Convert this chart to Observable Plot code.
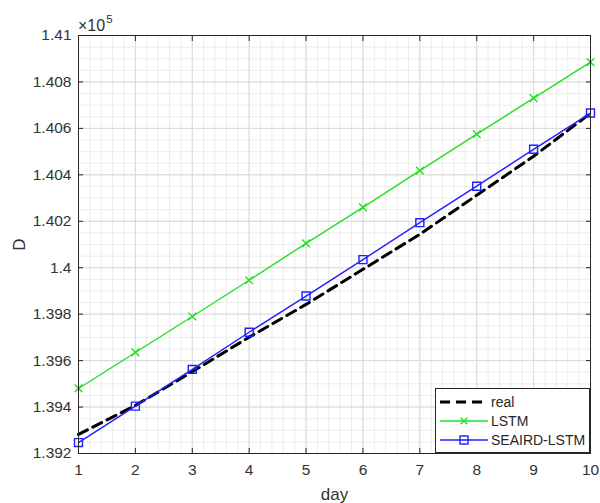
<!DOCTYPE html>
<html><head><meta charset="utf-8">
<script src="https://cdn.jsdelivr.net/npm/d3@7"></script>
<script src="https://cdn.jsdelivr.net/npm/@observablehq/plot@0.6"></script>
<style>
body{margin:0;background:#fff;font-family:"Liberation Sans",Arial,sans-serif;}
#wrap{position:relative;width:600px;height:503px;}
#wrap > svg text{font-size:15.5px !important;fill:#333;}
#wrap > svg g[aria-label="x-axis label"] text,
#wrap > svg g[aria-label="y-axis label"] text{font-size:17px !important;}
#legend{position:absolute;left:435px;top:388px;width:155px;height:65px;box-sizing:border-box;border:1px solid #262626;background:#fff;}
#exp{position:absolute;left:78px;top:16px;font-size:16px !important;line-height:20px;color:#333;font-family:"Liberation Sans",Arial,sans-serif;}
#exp span{font-size:11.5px;position:relative;top:-8px;margin-left:1px;}
</style></head><body><div id="wrap"></div>
<script>
const days = [1,2,3,4,5,6,7,8,9,10];
const real = [139282,139407,139552,139701,139842,139993,140144,140312,140480,140665];
const lstm = [139480,139635,139790,139946,140105,140260,140418,140575,140730,140885];
const seaird = [139247,139404,139562,139722,139878,140035,140194,140351,140510,140666];
const seriesNames = ["real","LSTM","SEAIRD-LSTM"];
const xTicks = [1,2,3,4,5,6,7,8,9,10];
const yTicks = [139200,139400,139600,139800,140000,140200,140400,140600,140800,141000];

const rows = days.map((d,i)=>({day:d, real:real[i], lstm:lstm[i], seaird:seaird[i]}));
const xMinor = d3.range(1, 10.0001, 0.2);
const yMinor = d3.range(139200, 141000.1, 50);
const axisColor = "#262626";
const fmtY = d => String(+(d/1e5).toFixed(3));

const plot = Plot.plot({
  width: 600, height: 503,
  marginLeft: 78, marginRight: 10, marginTop: 35, marginBottom: 50,
  style: {fontFamily: '"Liberation Sans", Arial, sans-serif', fontSize: "15.5px", color: "#333", background: "#fff"},
  x: {domain: [1, 10]},
  y: {domain: [139200, 141000]},
  marks: [
    Plot.ruleX(xMinor, {stroke: "#ececec", strokeWidth: 1}),
    Plot.ruleY(yMinor, {stroke: "#ececec", strokeWidth: 1}),
    Plot.ruleX(xTicks, {stroke: "#dadada", strokeWidth: 1}),
    Plot.ruleY(yTicks, {stroke: "#dadada", strokeWidth: 1}),
    Plot.line(rows, {x: "day", y: "real", stroke: "#000", strokeWidth: 3, strokeDasharray: "10,6"}),
    Plot.line(rows, {x: "day", y: "lstm", stroke: "#22e022", strokeWidth: 1.4}),
    Plot.dot(rows, {x: "day", y: "lstm", stroke: "#22e022", symbol: "times", r: 3.6, strokeWidth: 1.4}),
    Plot.line(rows, {x: "day", y: "seaird", stroke: "#1f1fff", strokeWidth: 1.4}),
    Plot.dot(rows, {x: "day", y: "seaird", stroke: "#1f1fff", fill: "none", symbol: "square", r: 4.5, strokeWidth: 1.4}),
    Plot.frame({stroke: axisColor, strokeWidth: 1}),
    Plot.axisX(xTicks, {anchor: "bottom", tickSize: 0, tickPadding: 10, label: "day", labelAnchor: "center", labelArrow: "none", labelOffset: 46}),
    Plot.axisX(xTicks, {anchor: "bottom", text: null, tickSize: 5, dy: -5, stroke: axisColor, label: null}),
    Plot.axisX(xTicks, {anchor: "top", text: null, tickSize: 5, dy: 5, stroke: axisColor, label: null}),
    Plot.axisY(yTicks, {anchor: "left", tickSize: 0, tickPadding: 7, tickFormat: fmtY, label: "D", labelAnchor: "center", labelOffset: 66, labelArrow: "none"}),
    Plot.axisY(yTicks, {anchor: "left", text: null, tickSize: 5, dx: 5, stroke: axisColor, label: null}),
    Plot.axisY(yTicks, {anchor: "right", text: null, tickSize: 5, dx: -5, stroke: axisColor, label: null})
  ]
});
const wrap = document.getElementById("wrap");
wrap.appendChild(plot);

const exp = document.createElement("div");
exp.id = "exp";
exp.innerHTML = "×10<span>5</span>";
wrap.appendChild(exp);

const legendStyles = [
  {color: "#000", width: 3, dash: "10,6", sym: null},
  {color: "#22e022", width: 1.4, dash: null, sym: "times"},
  {color: "#1f1fff", width: 1.4, dash: null, sym: "square"}
];
const lg = d3.select(wrap).append("div").attr("id", "legend")
  .append("svg").attr("width", 153).attr("height", 63);
seriesNames.forEach((name, i) => {
  const s = legendStyles[i];
  const y = 13 + i * 19;
  lg.append("line").attr("x1", 4).attr("x2", 52).attr("y1", y).attr("y2", y)
    .attr("stroke", s.color).attr("stroke-width", s.width).attr("stroke-dasharray", s.dash);
  if (s.sym === "times") {
    lg.append("path").attr("d", d3.symbol(d3.symbolTimes, 30)()).attr("transform", `translate(28,${y})`)
      .attr("stroke", s.color).attr("stroke-width", 1.4).attr("fill", "none");
  } else if (s.sym === "square") {
    lg.append("rect").attr("x", 24).attr("y", y - 4).attr("width", 8).attr("height", 8)
      .attr("stroke", s.color).attr("stroke-width", 1.4).attr("fill", "none");
  }
  lg.append("text").attr("x", 55).attr("y", y).attr("dy", "0.35em")
    .attr("font-size", 14).attr("fill", "#262626").attr("font-family", '"Liberation Sans", Arial, sans-serif').text(name);
});
</script>
</body></html>
